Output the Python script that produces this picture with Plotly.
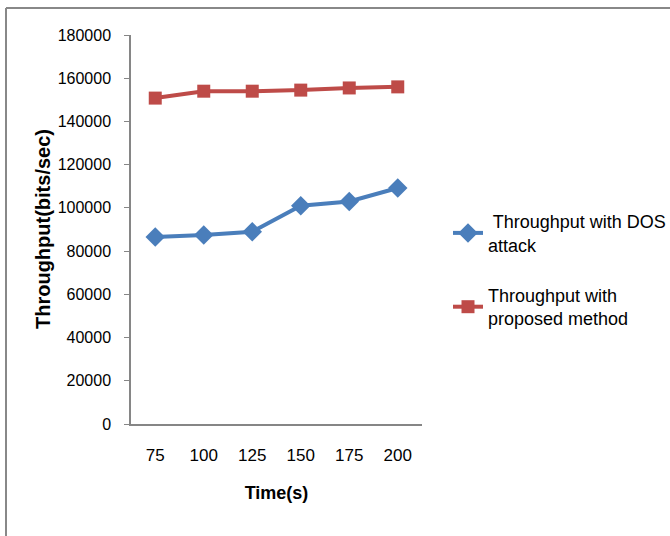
import plotly.graph_objects as go

time_labels = ["75", "100", "125", "150", "175", "200"]
dos_throughput = [86500, 87500, 89000, 101000, 103000, 109200]
proposed_throughput = [150800, 154000, 154000, 154500, 155500, 156000]
y_ticks = [0, 20000, 40000, 60000, 80000, 100000, 120000, 140000, 160000, 180000]

FONT = "Liberation Sans, Arial"

fig = go.Figure()
fig.add_trace(go.Scatter(
    x=time_labels, y=dos_throughput, mode="lines+markers",
    name=" Throughput with DOS<br>attack", legendgroup="a",
    line=dict(color="#4A7EBB", width=4),
    marker=dict(symbol="diamond", size=15, color="#4A7EBB"),
))
fig.add_trace(go.Scatter(
    x=time_labels, y=proposed_throughput, mode="lines+markers",
    name="Throughput with<br>proposed method", legendgroup="b",
    line=dict(color="#BE4B48", width=4),
    marker=dict(symbol="square", size=13, color="#BE4B48"),
))

L, R, T, B = 131, 422, 35, 424
W, H = 670, 536
pw, ph = R - L, B - T

def px(x):
    return (x - L) / pw

def py(y):
    return (B - y) / ph

fig.update_layout(
    width=W, height=H,
    margin=dict(l=L, r=W - R, t=T, b=H - B, autoexpand=False),
    paper_bgcolor="white", plot_bgcolor="white",
    font=dict(family=FONT, size=17, color="#000000"),
    showlegend=True,
    legend=dict(x=px(448), y=py(203), xanchor="left", yanchor="top",
                traceorder="grouped",
                font=dict(size=18), tracegroupgap=24, bgcolor="rgba(0,0,0,0)"),
    xaxis=dict(
        type="category", range=[-0.5, 5.5], showgrid=False,
        showline=True, linecolor="#868686", linewidth=1.5,
        ticks="", ticklabelstandoff=15, tickfont=dict(size=17),
        title=dict(text="<b>Time(s)</b>", font=dict(size=18), standoff=22),
    ),
    yaxis=dict(
        range=[0, 180000], tickvals=y_ticks, ticktext=[str(v) for v in y_ticks],
        showgrid=False, showline=True, linecolor="#868686", linewidth=1.5,
        ticks="outside", ticklen=5, tickcolor="#868686",
        ticklabelstandoff=10, zeroline=False, tickfont=dict(size=16),
    ),
    annotations=[
        dict(text="<b>Throughput(bits/sec)</b>", xref="paper", yref="paper",
             x=px(43), y=py(229), xanchor="center", yanchor="middle",
             textangle=-90, showarrow=False, font=dict(size=20)),
    ],
    shapes=[
        dict(type="line", xref="paper", yref="paper", x0=px(6), x1=px(670),
             y0=py(8), y1=py(8), line=dict(color="#888888", width=2)),
        dict(type="line", xref="paper", yref="paper", x0=px(6), x1=px(6),
             y0=py(8), y1=py(536), line=dict(color="#888888", width=2)),
    ],
)

fig.write_html("out.html")
